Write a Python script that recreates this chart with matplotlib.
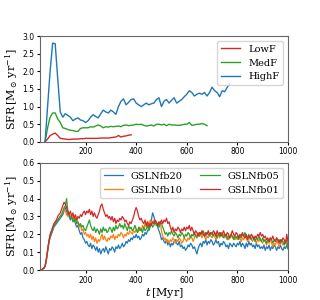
import matplotlib
matplotlib.use("Agg")
import matplotlib.pyplot as plt
import numpy as np

plt.rcParams['mathtext.fontset'] = 'dejavuserif'

# top panel: coarse runs, every 10 Myr
t_high = np.arange(40, 780, 10)
high = [0.0, 1.0, 2.0, 2.8, 2.78, 1.8, 0.85, 0.7, 0.8, 0.75,
        0.7, 0.6, 0.65, 0.68, 0.62, 0.6, 0.55, 0.6, 0.7, 0.77,
        0.72, 0.68, 0.8, 0.9, 0.85, 0.82, 0.9, 0.85, 0.78, 1.0,
        1.15, 1.22, 1.05, 1.12, 1.2, 1.22, 1.1, 1.05, 1.0, 1.05,
        1.1, 1.05, 1.08, 1.1, 1.2, 1.25, 1.0, 1.15, 1.2, 1.1,
        1.18, 1.25, 1.1, 1.15, 1.2, 1.28, 1.35, 1.45, 1.4, 1.3,
        1.35, 1.38, 1.35, 1.4, 1.3, 1.4, 1.55, 1.45, 1.4, 1.28,
        1.45, 1.42, 1.55, 1.65]

t_med = np.arange(40, 690, 10)
med = [0.0, 0.4, 0.7, 0.82, 0.82, 0.65, 0.55, 0.4, 0.38, 0.35,
       0.33, 0.32, 0.3, 0.3, 0.38, 0.4, 0.4, 0.4, 0.43, 0.42,
       0.45, 0.48, 0.45, 0.4, 0.43, 0.42, 0.44, 0.43, 0.44, 0.45,
       0.43, 0.47, 0.48, 0.46, 0.47, 0.48, 0.5, 0.49, 0.5, 0.47,
       0.45, 0.46, 0.48, 0.45, 0.5, 0.5, 0.48, 0.5, 0.46, 0.5,
       0.48, 0.48, 0.47, 0.47, 0.48, 0.5, 0.5, 0.55, 0.47, 0.48,
       0.5, 0.5, 0.52, 0.5, 0.46]

t_low = np.arange(40, 390, 10)
low = [0.0, 0.08, 0.18, 0.22, 0.25, 0.18, 0.1, 0.09, 0.08, 0.07,
       0.07, 0.08, 0.08, 0.08, 0.09, 0.09, 0.1, 0.1, 0.1, 0.1,
       0.1, 0.1, 0.11, 0.11, 0.11, 0.11, 0.12, 0.13, 0.14, 0.18,
       0.14, 0.16, 0.17, 0.19, 0.2]

# bottom panel: every 5 Myr from 20 to 1000
t_gs = np.arange(20, 1005, 5)
fb20 = [0.0, 0.0, 0.005, 0.01, 0.02, 0.05, 0.1, 0.15, 0.18, 0.2, 0.22, 0.24, 0.25, 0.26, 0.27, 0.28,
        0.29, 0.3, 0.31, 0.33, 0.35, 0.33, 0.31, 0.3, 0.28, 0.3, 0.27, 0.29, 0.26, 0.24, 0.25, 0.22, 0.2, 0.21, 0.18, 0.17,
        0.15, 0.16, 0.14, 0.13, 0.15, 0.12, 0.14, 0.13, 0.11, 0.13, 0.1, 0.12, 0.09, 0.11, 0.12, 0.1, 0.13, 0.11, 0.09, 0.12,
        0.11, 0.13, 0.12, 0.1, 0.13, 0.12, 0.14, 0.12, 0.13, 0.15, 0.13, 0.14, 0.16, 0.15, 0.17, 0.16, 0.18, 0.17, 0.19, 0.18,
        0.2, 0.18, 0.19, 0.17, 0.18, 0.2, 0.19, 0.21, 0.2, 0.22, 0.23, 0.25, 0.28, 0.32, 0.3, 0.27, 0.26, 0.24, 0.22, 0.2,
        0.17, 0.18, 0.16, 0.15, 0.17, 0.14, 0.16, 0.13, 0.15, 0.14, 0.16, 0.17, 0.15, 0.14, 0.16, 0.13, 0.14, 0.12, 0.13, 0.11,
        0.12, 0.14, 0.13, 0.15, 0.14, 0.12, 0.13, 0.11, 0.09, 0.12, 0.14, 0.15, 0.13, 0.16, 0.15, 0.17, 0.14, 0.16, 0.15, 0.17,
        0.16, 0.14, 0.15, 0.17, 0.15, 0.16, 0.13, 0.15, 0.14, 0.16, 0.15, 0.13, 0.14, 0.12, 0.15, 0.14, 0.13, 0.15, 0.14, 0.13,
        0.15, 0.14, 0.16, 0.13, 0.15, 0.14, 0.12, 0.15, 0.13, 0.16, 0.14, 0.15, 0.13, 0.14, 0.12, 0.15, 0.13, 0.14, 0.12, 0.13,
        0.12, 0.14, 0.11, 0.13, 0.12, 0.14, 0.11, 0.13, 0.12, 0.14, 0.13, 0.11, 0.13, 0.12, 0.14, 0.12, 0.11, 0.13, 0.12, 0.14,
        0.12]
fb10 = [0.0, 0.0, 0.005, 0.01, 0.02, 0.06, 0.11, 0.16, 0.19, 0.21, 0.23, 0.25, 0.26, 0.27, 0.28, 0.29,
        0.3, 0.31, 0.32, 0.34, 0.33, 0.31, 0.3, 0.32, 0.29, 0.31, 0.28, 0.3, 0.27, 0.29, 0.26, 0.24, 0.25, 0.22, 0.23, 0.2,
        0.21, 0.19, 0.2, 0.18, 0.2, 0.17, 0.19, 0.16, 0.18, 0.15, 0.17, 0.16, 0.18, 0.2, 0.17, 0.19, 0.17, 0.16, 0.18, 0.17,
        0.19, 0.18, 0.2, 0.17, 0.19, 0.18, 0.2, 0.19, 0.21, 0.2, 0.18, 0.2, 0.19, 0.21, 0.2, 0.22, 0.21, 0.2, 0.22, 0.21,
        0.23, 0.21, 0.22, 0.24, 0.22, 0.25, 0.23, 0.26, 0.24, 0.27, 0.25, 0.28, 0.26, 0.27, 0.28, 0.27, 0.25, 0.26, 0.24, 0.27,
        0.22, 0.19, 0.17, 0.18, 0.16, 0.17, 0.15, 0.17, 0.16, 0.18, 0.17, 0.15, 0.17, 0.16, 0.18, 0.17, 0.15, 0.16, 0.18, 0.17,
        0.16, 0.18, 0.17, 0.19, 0.18, 0.16, 0.18, 0.2, 0.19, 0.21, 0.19, 0.2, 0.18, 0.2, 0.19, 0.17, 0.19, 0.18, 0.2, 0.19,
        0.18, 0.2, 0.19, 0.17, 0.19, 0.2, 0.18, 0.21, 0.19, 0.2, 0.18, 0.2, 0.19, 0.17, 0.18, 0.2, 0.18, 0.19, 0.17, 0.18,
        0.17, 0.19, 0.18, 0.16, 0.18, 0.17, 0.19, 0.18, 0.16, 0.17, 0.19, 0.17, 0.16, 0.18, 0.17, 0.15, 0.17, 0.16, 0.18, 0.16,
        0.15, 0.17, 0.16, 0.14, 0.16, 0.15, 0.17, 0.15, 0.13, 0.15, 0.14, 0.16, 0.15, 0.13, 0.15, 0.16, 0.14, 0.15, 0.16, 0.14,
        0.15]
fb05 = [0.0, 0.0, 0.005, 0.01, 0.02, 0.06, 0.11, 0.16, 0.19, 0.21, 0.23, 0.25, 0.26, 0.27, 0.28, 0.29,
        0.3, 0.31, 0.33, 0.35, 0.36, 0.4, 0.33, 0.31, 0.29, 0.3, 0.28, 0.27, 0.29, 0.26, 0.27, 0.25, 0.26, 0.24, 0.25, 0.23,
        0.22, 0.24, 0.26, 0.28, 0.25, 0.23, 0.22, 0.24, 0.21, 0.23, 0.22, 0.2, 0.23, 0.21, 0.24, 0.22, 0.23, 0.21, 0.22, 0.24,
        0.23, 0.21, 0.24, 0.22, 0.25, 0.23, 0.24, 0.26, 0.24, 0.25, 0.23, 0.26, 0.24, 0.22, 0.25, 0.23, 0.24, 0.22, 0.23, 0.25,
        0.23, 0.21, 0.24, 0.22, 0.23, 0.21, 0.24, 0.22, 0.23, 0.25, 0.22, 0.24, 0.26, 0.24, 0.25, 0.27, 0.25, 0.26, 0.24, 0.27,
        0.26, 0.24, 0.22, 0.2, 0.21, 0.19, 0.21, 0.2, 0.22, 0.2, 0.19, 0.21, 0.2, 0.18, 0.2, 0.19, 0.21, 0.2, 0.18, 0.2,
        0.19, 0.21, 0.2, 0.18, 0.2, 0.19, 0.21, 0.19, 0.18, 0.2, 0.19, 0.21, 0.2, 0.22, 0.2, 0.19, 0.21, 0.2, 0.19, 0.21,
        0.2, 0.19, 0.21, 0.2, 0.18, 0.2, 0.19, 0.21, 0.19, 0.18, 0.2, 0.19, 0.17, 0.19, 0.18, 0.2, 0.19, 0.17, 0.19, 0.18,
        0.19, 0.17, 0.19, 0.18, 0.2, 0.19, 0.21, 0.19, 0.18, 0.2, 0.18, 0.17, 0.19, 0.18, 0.16, 0.18, 0.17, 0.19, 0.17, 0.16,
        0.18, 0.16, 0.17, 0.15, 0.17, 0.16, 0.18, 0.17, 0.15, 0.17, 0.16, 0.18, 0.16, 0.17, 0.15, 0.17, 0.16, 0.14, 0.16, 0.17,
        0.12]
fb01 = [0.0, 0.0, 0.005, 0.01, 0.02, 0.06, 0.11, 0.16, 0.2, 0.22, 0.24, 0.26, 0.27, 0.28, 0.3, 0.31,
        0.32, 0.34, 0.36, 0.38, 0.37, 0.35, 0.33, 0.31, 0.33, 0.3, 0.32, 0.29, 0.31, 0.28, 0.3, 0.29, 0.31, 0.3, 0.32, 0.33,
        0.31, 0.33, 0.32, 0.34, 0.31, 0.33, 0.3, 0.32, 0.3, 0.29, 0.31, 0.33, 0.36, 0.37, 0.34, 0.32, 0.3, 0.31, 0.29, 0.3,
        0.28, 0.3, 0.27, 0.29, 0.26, 0.28, 0.27, 0.29, 0.28, 0.3, 0.29, 0.27, 0.28, 0.26, 0.25, 0.27, 0.26, 0.28, 0.3, 0.33,
        0.35, 0.33, 0.3, 0.28, 0.29, 0.27, 0.26, 0.28, 0.25, 0.27, 0.24, 0.26, 0.25, 0.27, 0.26, 0.28, 0.27, 0.25, 0.27, 0.26,
        0.28, 0.26, 0.28, 0.27, 0.29, 0.26, 0.27, 0.24, 0.22, 0.24, 0.21, 0.23, 0.22, 0.24, 0.23, 0.21, 0.23, 0.22, 0.24, 0.22,
        0.24, 0.23, 0.25, 0.22, 0.24, 0.22, 0.2, 0.22, 0.21, 0.19, 0.21, 0.2, 0.22, 0.2, 0.19, 0.21, 0.2, 0.22, 0.2, 0.21,
        0.2, 0.22, 0.21, 0.19, 0.22, 0.2, 0.21, 0.19, 0.2, 0.22, 0.2, 0.19, 0.21, 0.2, 0.18, 0.2, 0.22, 0.2, 0.19, 0.21,
        0.2, 0.18, 0.2, 0.19, 0.21, 0.19, 0.18, 0.2, 0.17, 0.19, 0.18, 0.2, 0.19, 0.17, 0.19, 0.18, 0.2, 0.19, 0.21, 0.19,
        0.2, 0.18, 0.19, 0.17, 0.18, 0.16, 0.18, 0.17, 0.19, 0.17, 0.16, 0.18, 0.17, 0.15, 0.17, 0.16, 0.18, 0.17, 0.15, 0.2,
        0.16]

fig = plt.figure(figsize=(3.2, 3.0), dpi=100)
ax1 = fig.add_axes([0.125, 0.527, 0.775, 0.353])
ax2 = fig.add_axes([0.125, 0.1, 0.775, 0.357])

ax1.plot(t_low, low, color='tab:red', lw=1.0, label='LowF')
ax1.plot(t_med, med, color='tab:green', lw=1.0, label='MedF')
ax1.plot(t_high, high, color='tab:blue', lw=1.0, label='HighF')
ax1.set_xlim(20, 1000)
ax1.set_ylim(0, 3.0)
ax1.set_yticks(np.arange(0, 3.01, 0.5))
ax1.legend(loc='upper right', prop={'family': 'DejaVu Serif', 'size': 7})

ax2.plot(t_gs, fb20, color='tab:blue', lw=0.9, label='GSLNfb20')
ax2.plot(t_gs, fb10, color='tab:orange', lw=0.9, label='GSLNfb10')
ax2.plot(t_gs, fb05, color='tab:green', lw=0.9, label='GSLNfb05')
ax2.plot(t_gs, fb01, color='tab:red', lw=0.9, label='GSLNfb01')
ax2.set_xlim(20, 1000)
ax2.set_ylim(0, 0.6)
ax2.legend(loc='upper right', ncol=2, prop={'family': 'DejaVu Serif', 'size': 7},
           columnspacing=1.8)
ax2.set_xlabel(r'$t\,$[Myr]', family='DejaVu Serif', fontsize=8, labelpad=1)

for ax in (ax1, ax2):
    ax.set_xticks([200, 400, 600, 800, 1000])
    ax.tick_params(labelsize=5.5, length=2.5, pad=1.5)
    ax.set_ylabel(r'SFR$\,$[M$_\odot\,$yr$^{-1}$]', family='DejaVu Serif', fontsize=8, labelpad=2)
    for s in ax.spines.values():
        s.set_color('0.4')

fig.savefig('out.png', dpi=100)
